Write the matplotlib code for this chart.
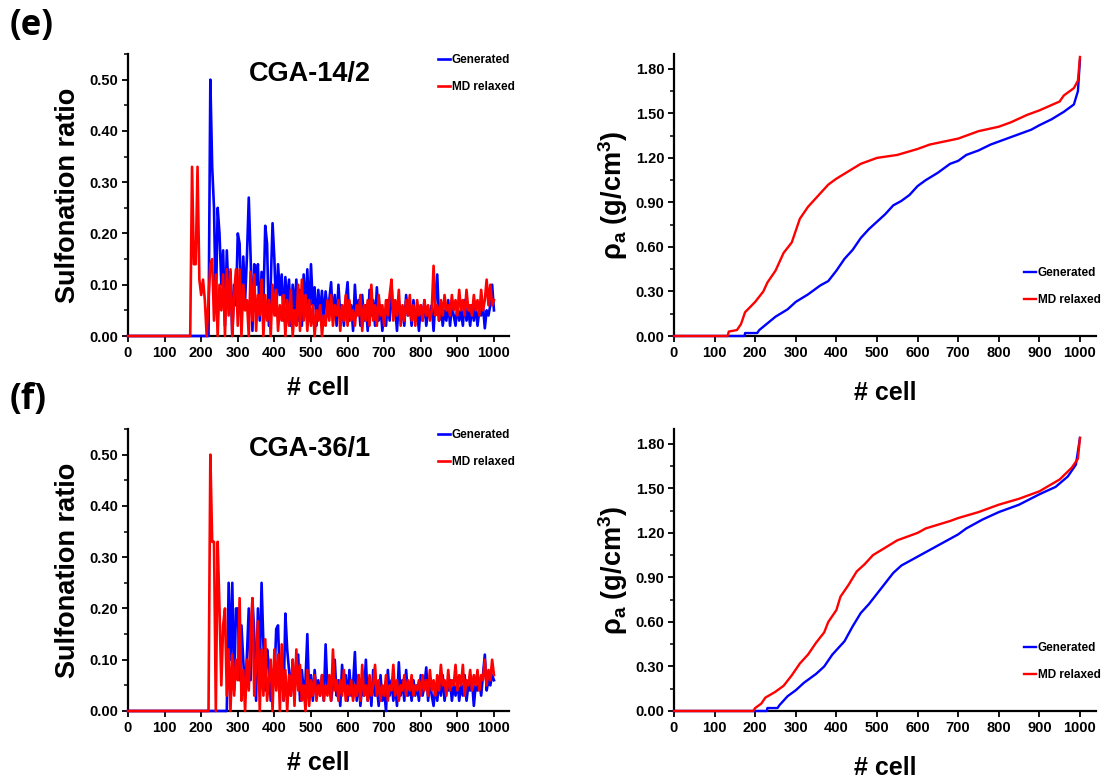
import numpy as np
import matplotlib
matplotlib.use("Agg")
import matplotlib.pyplot as plt
from matplotlib.ticker import MultipleLocator, FormatStrFormatter

plt.rcParams['font.family'] = ['Liberation Sans', 'DejaVu Sans']
plt.rcParams['font.weight'] = 'bold'
plt.rcParams['mathtext.default'] = 'regular'

BLUE = '#0000FF'
RED = '#FF0000'
STEP = 5

# ---------------- (e) CGA-14/2 : sulfonation ratio per cell (every 5 cells) ----------------
e_sulf_gen_start = 200
e_sulf_gen = [
    0, 0, 0, 0, 0, 0.50, 0.33, 0.25, 0.05, 0.25,          # 200-245
    0.20, 0.10, 0.167, 0.02, 0.167, 0.08, 0.125, 0.00, 0.10, 0.06,  # 250-295
    0.20, 0.18, 0.03, 0.155, 0.07, 0.155, 0.27, 0.155, 0.01, 0.14,  # 300-345
    0.10, 0.14, 0.03, 0.125, 0.06, 0.215, 0.18, 0.02, 0.10, 0.22,   # 350-395
    0.15, 0.04, 0.14, 0.08, 0.12, 0.03, 0.115, 0.06, 0.11, 0.02,    # 400-445
    0.10, 0.05, 0.11, 0.03, 0.09, 0.02, 0.12, 0.05, 0.13, 0.03,     # 450-495
    0.14, 0.06, 0.095, 0.02, 0.09, 0.04, 0.088, 0.03, 0.087, 0.05,  # 500-545
    0.07, 0.105, 0.03, 0.08, 0.02, 0.10, 0.04, 0.06, 0.02, 0.07,    # 550-595
    0.105, 0.03, 0.06, 0.01, 0.10, 0.04, 0.07, 0.02, 0.08, 0.03,    # 600-645
    0.06, 0.01, 0.09, 0.04, 0.07, 0.02, 0.095, 0.03, 0.06, 0.01,    # 650-695
    0.05, 0.02, 0.07, 0.03, 0.10, 0.04, 0.06, 0.01, 0.07, 0.03,     # 700-745
    0.05, 0.02, 0.08, 0.04, 0.06, 0.02, 0.07, 0.03, 0.05, 0.01,     # 750-795
    0.06, 0.03, 0.07, 0.02, 0.05, 0.04, 0.06, 0.01, 0.07, 0.12,     # 800-845
    0.03, 0.06, 0.02, 0.05, 0.03, 0.07, 0.02, 0.06, 0.04, 0.02,     # 850-895
    0.06, 0.03, 0.05, 0.02, 0.07, 0.03, 0.05, 0.02, 0.06, 0.03,     # 900-945
    0.06, 0.02, 0.05, 0.04, 0.06, 0.015, 0.05, 0.04, 0.06, 0.10,    # 950-995
    0.05,                                                           # 1000
]
e_sulf_md_start = 150
e_sulf_md = [
    0, 0, 0, 0, 0, 0.33, 0.14, 0.14, 0.33, 0.11,                    # 150-195
    0.08, 0.11, 0.07, 0.0, 0.07, 0.14, 0.15, 0.03, 0.12, 0.0,       # 200-245
    0.10, 0.05, 0.12, 0.0, 0.13, 0.04, 0.13, 0.0, 0.08, 0.13,       # 250-295
    0.02, 0.13, 0.0, 0.10, 0.05, 0.07, 0.0, 0.125, 0.03, 0.12,      # 300-345
    0.01, 0.08, 0.04, 0.11, 0.0, 0.08, 0.03, 0.07, 0.0, 0.10,       # 350-395
    0.04, 0.09, 0.01, 0.06, 0.03, 0.08, 0.0, 0.07, 0.02, 0.09,      # 400-445
    0.0, 0.05, 0.02, 0.10, 0.01, 0.11, 0.03, 0.08, 0.01, 0.07,      # 450-495
    0.02, 0.06, 0.0, 0.05, 0.03, 0.06, 0.0, 0.04, 0.02, 0.07,       # 500-545
    0.03, 0.08, 0.02, 0.06, 0.04, 0.07, 0.01, 0.06, 0.03, 0.08,     # 550-595
    0.02, 0.07, 0.03, 0.05, 0.02, 0.06, 0.04, 0.08, 0.01, 0.06,     # 600-645
    0.03, 0.07, 0.02, 0.10, 0.03, 0.06, 0.02, 0.08, 0.04, 0.06,     # 650-695
    0.02, 0.07, 0.04, 0.08, 0.11, 0.03, 0.07, 0.04, 0.09, 0.02,     # 700-745
    0.06, 0.03, 0.07, 0.04, 0.08, 0.03, 0.06, 0.02, 0.07, 0.04,     # 750-795
    0.06, 0.03, 0.07, 0.04, 0.06, 0.03, 0.05, 0.137, 0.04, 0.06,    # 800-845
    0.03, 0.07, 0.04, 0.08, 0.05, 0.06, 0.04, 0.08, 0.05, 0.07,     # 850-895
    0.04, 0.09, 0.05, 0.07, 0.04, 0.09, 0.05, 0.06, 0.04, 0.08,     # 900-945
    0.05, 0.07, 0.04, 0.09, 0.05, 0.07, 0.11, 0.06, 0.10, 0.06,     # 950-995
    0.07,                                                           # 1000
]

# ---------------- (f) CGA-36/1 : sulfonation ratio ----------------
f_sulf_gen_start = 250
f_sulf_gen = [
    0, 0, 0, 0, 0, 0.25, 0.10, 0.25, 0.04, 0.20,                    # 250-295
    0.20, 0.06, 0.167, 0.10, 0.03, 0.11, 0.20, 0.06, 0.22, 0.15,    # 300-345
    0.02, 0.20, 0.08, 0.25, 0.13, 0.04, 0.12, 0.09, 0.02, 0.08,     # 350-395
    0.06, 0.16, 0.167, 0.05, 0.10, 0.02, 0.19, 0.12, 0.08, 0.03,    # 400-445
    0.10, 0.05, 0.07, 0.11, 0.02, 0.08, 0.04, 0.06, 0.15, 0.03,     # 450-495
    0.07, 0.02, 0.08, 0.04, 0.06, 0.03, 0.07, 0.02, 0.13, 0.04,     # 500-545
    0.06, 0.02, 0.05, 0.10, 0.03, 0.06, 0.01, 0.09, 0.04, 0.07,     # 550-595
    0.02, 0.08, 0.03, 0.05, 0.115, 0.02, 0.07, 0.01, 0.05, 0.03,    # 600-645
    0.10, 0.02, 0.06, 0.01, 0.08, 0.03, 0.05, 0.01, 0.07, 0.02,     # 650-695
    0.04, 0.00, 0.08, 0.03, 0.06, 0.02, 0.05, 0.01, 0.095, 0.03,    # 700-745
    0.06, 0.02, 0.08, 0.03, 0.05, 0.02, 0.06, 0.03, 0.05, 0.02,     # 750-795
    0.07, 0.03, 0.05, 0.085, 0.02, 0.06, 0.03, 0.01, 0.05, 0.02,    # 800-845
    0.06, 0.03, 0.07, 0.02, 0.05, 0.04, 0.06, 0.02, 0.05, 0.03,     # 850-895
    0.06, 0.02, 0.05, 0.03, 0.07, 0.02, 0.05, 0.04, 0.06, 0.01,     # 900-945
    0.05, 0.04, 0.06, 0.03, 0.07, 0.11, 0.04, 0.06, 0.05, 0.07,     # 950-995
    0.06,                                                           # 1000
]
f_sulf_md_start = 200
f_sulf_md = [
    0, 0, 0, 0, 0, 0.50, 0.33, 0.33, 0.0, 0.33,                     # 200-245
    0.20, 0.05, 0.167, 0.20, 0.03, 0.12, 0.0, 0.11, 0.03, 0.10,     # 250-295
    0.06, 0.22, 0.02, 0.08, 0.0, 0.10, 0.04, 0.15, 0.22, 0.03,      # 300-345
    0.09, 0.175, 0.0, 0.12, 0.03, 0.14, 0.02, 0.06, 0.10, 0.0,      # 350-395
    0.12, 0.04, 0.11, 0.0, 0.13, 0.02, 0.08, 0.0, 0.07, 0.03,       # 400-445
    0.10, 0.01, 0.12, 0.04, 0.09, 0.02, 0.05, 0.0, 0.08, 0.01,      # 450-495
    0.06, 0.03, 0.07, 0.02, 0.05, 0.03, 0.07, 0.02, 0.05, 0.03,     # 500-545
    0.07, 0.02, 0.12, 0.04, 0.06, 0.02, 0.06, 0.03, 0.08, 0.02,     # 550-595
    0.05, 0.03, 0.06, 0.02, 0.05, 0.03, 0.07, 0.02, 0.09, 0.03,     # 600-645
    0.05, 0.02, 0.07, 0.03, 0.05, 0.09, 0.03, 0.06, 0.02, 0.05,     # 650-695
    0.03, 0.07, 0.02, 0.05, 0.04, 0.09, 0.03, 0.06, 0.02, 0.05,     # 700-745
    0.04, 0.07, 0.03, 0.06, 0.04, 0.07, 0.03, 0.05, 0.04, 0.06,     # 750-795
    0.03, 0.07, 0.04, 0.06, 0.03, 0.08, 0.04, 0.06, 0.03, 0.07,     # 800-845
    0.04, 0.09, 0.05, 0.06, 0.03, 0.08, 0.04, 0.06, 0.05, 0.09,     # 850-895
    0.04, 0.07, 0.05, 0.09, 0.03, 0.06, 0.05, 0.08, 0.04, 0.07,     # 900-945
    0.05, 0.08, 0.04, 0.07, 0.06, 0.10, 0.05, 0.08, 0.06, 0.10,     # 950-995
    0.07,                                                           # 1000
]

# ---------------- apparent density (sorted), g/cm3 ----------------
e_rho_gen_cell = [0, 174, 175, 205, 210, 250, 280, 300, 330, 360, 380, 400, 420, 440, 460, 480,
                  500, 520, 540, 560, 580, 600, 620, 650, 680, 700, 720, 750, 780, 800, 820,
                  850, 880, 900, 930, 960, 985, 995, 1000]
e_rho_gen = [0, 0, 0.02, 0.02, 0.04, 0.13, 0.18, 0.23, 0.28, 0.34, 0.37, 0.44, 0.52, 0.58, 0.66, 0.72,
             0.77, 0.82, 0.88, 0.91, 0.95, 1.01, 1.05, 1.10, 1.16, 1.18, 1.22, 1.25, 1.29, 1.31, 1.33,
             1.36, 1.39, 1.42, 1.46, 1.51, 1.56, 1.65, 1.86]
e_rho_md_cell = [0, 132, 135, 155, 165, 175, 200, 220, 230, 250, 270, 290, 310, 330, 350, 380, 400,
                 430, 460, 500, 550, 600, 630, 700, 750, 800, 830, 870, 900, 950, 960, 985, 995, 1000]
e_rho_md = [0, 0, 0.03, 0.04, 0.08, 0.16, 0.23, 0.30, 0.36, 0.44, 0.56, 0.63, 0.79, 0.87, 0.93, 1.02, 1.06,
            1.11, 1.16, 1.20, 1.22, 1.26, 1.29, 1.33, 1.38, 1.41, 1.44, 1.49, 1.52, 1.58, 1.62, 1.67, 1.72, 1.88]

f_rho_gen_cell = [0, 229, 230, 255, 260, 280, 300, 320, 350, 370, 390, 400, 420, 440, 460, 480, 500,
                  520, 540, 560, 600, 640, 680, 700, 720, 760, 800, 850, 900, 940, 970, 990, 1000]
f_rho_gen = [0, 0, 0.02, 0.02, 0.04, 0.10, 0.14, 0.19, 0.25, 0.30, 0.38, 0.41, 0.47, 0.57, 0.66, 0.72, 0.79,
             0.86, 0.93, 0.98, 1.04, 1.10, 1.16, 1.19, 1.23, 1.29, 1.34, 1.39, 1.46, 1.51, 1.58, 1.66, 1.84]
f_rho_md_cell = [0, 195, 200, 215, 225, 250, 270, 290, 310, 330, 350, 370, 380, 400, 410, 430, 450,
                 470, 490, 520, 550, 600, 620, 680, 700, 750, 800, 850, 900, 950, 980, 995, 1000]
f_rho_md = [0, 0, 0.02, 0.05, 0.09, 0.13, 0.17, 0.24, 0.32, 0.38, 0.46, 0.53, 0.60, 0.68, 0.77, 0.85, 0.94,
            0.99, 1.05, 1.10, 1.15, 1.20, 1.23, 1.28, 1.30, 1.34, 1.39, 1.43, 1.48, 1.56, 1.64, 1.70, 1.84]

labels = ['Generated', 'MD relaxed']
titles = ['CGA-14/2', 'CGA-36/1']
panel_tags = ['(e)', '(f)']
x_ticks = [0, 100, 200, 300, 400, 500, 600, 700, 800, 900, 1000]


def series(start, vals):
    cells = np.concatenate([[0], start + STEP * np.arange(len(vals))])
    return cells, np.concatenate([[0.0], np.asarray(vals, dtype=float)])


fig = plt.figure(figsize=(11.09, 7.83), dpi=100)

W = 1109.0
H = 783.0
rows = [(54, 336), (429, 711)]  # top/bottom pixel of axes
axL = []
axR = []
for top, bot in rows:
    axL.append(fig.add_axes([128 / W, 1 - bot / H, 380.6 / W, (bot - top) / H]))
    axR.append(fig.add_axes([674 / W, 1 - bot / H, 422.2 / W, (bot - top) / H]))


def style(ax, ymax, major, minor):
    for s in ['top', 'right']:
        ax.spines[s].set_visible(False)
    for s in ['left', 'bottom']:
        ax.spines[s].set_linewidth(1.6)
    ax.set_xlim(0, 1040)
    ax.set_ylim(0, ymax)
    ax.set_xticks(x_ticks)
    ax.yaxis.set_major_locator(MultipleLocator(major))
    ax.yaxis.set_minor_locator(MultipleLocator(minor))
    ax.yaxis.set_major_formatter(FormatStrFormatter('%.2f'))
    ax.tick_params(axis='both', which='major', direction='out', length=4, width=1.3,
                   labelsize=10.5, pad=3)
    ax.tick_params(axis='y', which='minor', direction='out', length=3, width=1.1)
    for lab in ax.get_xticklabels() + ax.get_yticklabels():
        lab.set_fontweight('bold')


sulf = [((e_sulf_gen_start, e_sulf_gen), (e_sulf_md_start, e_sulf_md)),
        ((f_sulf_gen_start, f_sulf_gen), (f_sulf_md_start, f_sulf_md))]
rho = [((e_rho_gen_cell, e_rho_gen), (e_rho_md_cell, e_rho_md)),
       ((f_rho_gen_cell, f_rho_gen), (f_rho_md_cell, f_rho_md))]

for i in range(2):
    ax = axL[i]
    (gs, gv), (ms, mv) = sulf[i]
    x1, y1 = series(gs, gv)
    x2, y2 = series(ms, mv)
    ax.plot(x1, y1, color=BLUE, lw=1.9, label=labels[0], clip_on=False, zorder=3)
    ax.plot(x2, y2, color=RED, lw=1.9, label=labels[1], clip_on=False, zorder=3.1)
    style(ax, 0.55, 0.10, 0.05)
    ax.set_ylabel('Sulfonation ratio', fontsize=19.5, fontweight='bold', labelpad=6)
    ax.set_xlabel('# cell', fontsize=18, fontweight='bold', labelpad=12)
    ax.text(0.478, 0.93, titles[i], transform=ax.transAxes, ha='center', va='center',
            fontsize=19.5, fontweight='bold')
    ax.legend(loc='upper left', bbox_to_anchor=(0.815, 1.0), frameon=False,
              handlelength=1.0, handletextpad=0.15, labelspacing=1.25,
              borderaxespad=0, borderpad=0, prop={'size': 8.5, 'weight': 'bold'})

    axr = axR[i]
    (gc, gr), (mc, mr) = rho[i]
    axr.plot(gc, gr, color=BLUE, lw=1.7, label=labels[0], clip_on=False, zorder=3)
    axr.plot(mc, mr, color=RED, lw=1.7, label=labels[1], clip_on=False, zorder=3.1)
    style(axr, 1.9, 0.30, 0.15)
    axr.set_ylabel(r'$\rho_a$ (g/cm$^3$)', fontsize=19.5, fontweight='bold', labelpad=4)
    axr.set_xlabel('# cell', fontsize=18, fontweight='bold', labelpad=15)
    axr.legend(loc='upper left', bbox_to_anchor=(0.829, 0.245), frameon=False,
               handlelength=1.0, handletextpad=0.15, labelspacing=1.25,
               borderaxespad=0, borderpad=0, prop={'size': 8.5, 'weight': 'bold'})

fig.text(10 / W, 1 - 26 / H, panel_tags[0], fontsize=25, fontweight='bold',
         family=['Open Sans', 'DejaVu Sans'], ha='left', va='center')
fig.text(10 / W, 1 - 400 / H, panel_tags[1], fontsize=25, fontweight='bold',
         family=['Open Sans', 'DejaVu Sans'], ha='left', va='center')

fig.savefig('out.png', dpi=100)
